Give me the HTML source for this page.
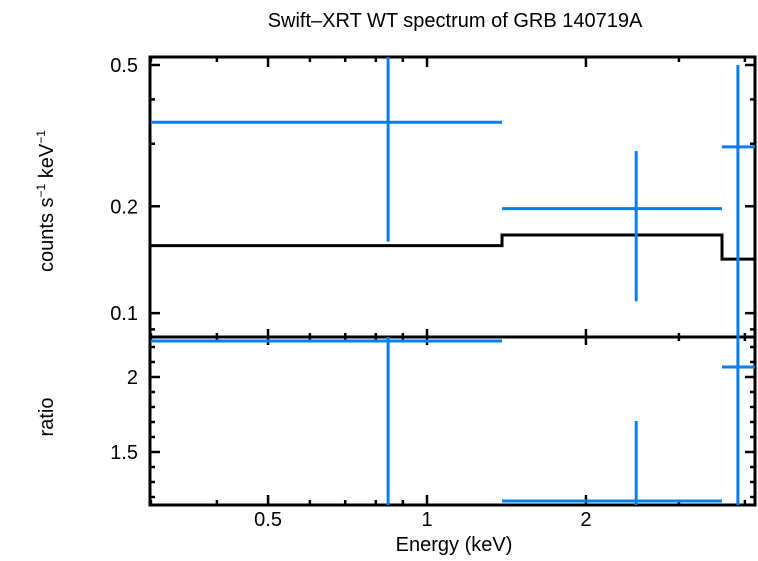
<!DOCTYPE html>
<html><head><meta charset="utf-8"><style>
html,body{margin:0;padding:0;background:#fff;}
svg text{font-family:"Liberation Sans",sans-serif;fill:#000;}
</style></head><body>
<svg id="chart" width="758" height="556" xmlns="http://www.w3.org/2000/svg">
<defs>
<clipPath id="ct"><rect x="150" y="57" width="605" height="280"/></clipPath>
<clipPath id="cb"><rect x="150" y="337" width="605" height="168"/></clipPath>
</defs>
<text x="455" y="27" font-size="20" text-anchor="middle">Swift–XRT WT spectrum of GRB 140719A</text>
<text transform="translate(53,201) rotate(-90)" font-size="20" text-anchor="middle">counts s<tspan font-size="12" dy="-8">−1</tspan><tspan dy="8"> keV</tspan><tspan font-size="12" dy="-8">−1</tspan></text>
<text transform="translate(53,417) rotate(-90)" font-size="20" text-anchor="middle">ratio</text>
<text x="454" y="551" font-size="20" text-anchor="middle">Energy (keV)</text>
<g id="axes"></g>
<g id="model" clip-path="url(#ct)"></g>
<g id="dataTop" clip-path="url(#ct)"></g>
<g id="dataBot" clip-path="url(#cb)"></g>
</svg>
<script>
const binLo=[0.3,1.387,3.62];
const binHi=[1.387,3.62,4.3];
const binCenter=[0.844,2.49,3.88];
const flux=[0.345,0.197,0.294];
const fluxLo=[0.159,0.108,0.06];
const fluxHi=[0.7,0.286,0.5];
const ratio=[2.24,1.173,2.067];
const ratioLo=[1.0,1.0,1.0];
const ratioHi=[2.6,1.707,2.6];
const modelVal=[0.155,0.166,0.142];
const xTicks=[0.5,1,2];
const xMinor=[0.3,0.4,0.6,0.7,0.8,0.9,3,4];
const yTopTicks=[0.1,0.2,0.5];
const yTopMinor=[0.09,0.3,0.4];
const yBotTicks=[1.5,2];
const yBotMinor=[1.2,1.3,1.4,1.6,1.7,1.8,1.9,2.1,2.2];

const L=150,R=755,T=57,M=337,B=505;
const X=e=>427+528*Math.log10(e);
const YT=v=>65-355*Math.log10(v/0.5);
const YB=v=>377-150*(v-2);
const NS="http://www.w3.org/2000/svg";
function mk(parent,tag,attrs){const el=document.createElementNS(NS,tag);for(const k in attrs)el.setAttribute(k,attrs[k]);document.getElementById(parent).appendChild(el);return el;}
function line(p,x1,y1,x2,y2,c,w){return mk(p,'line',{x1,y1,x2,y2,stroke:c,'stroke-width':w});}

let f=mk('axes','rect',{x:L,y:T,width:R-L,height:B-T,fill:'none',stroke:'#000','stroke-width':3});


let dv=line('axes',L,M,R,M,'#000',3);



xTicks.forEach(t=>{const x=X(t);
 [[T,T+10],[M-8,M+8],[B-10,B]].forEach(([a,b])=>line('axes',x,a,x,b,'#000',2.5));
 const tx=mk('axes','text',{x:x,y:526,'font-size':20,'text-anchor':'middle'});tx.textContent=t;
 
 
});
xMinor.forEach(t=>{const x=X(t);
 [[T,T+5],[M-4,M+4],[B-5,B]].forEach(([a,b])=>line('axes',x,a,x,b,'#000',2.5));
});
yTopTicks.forEach(t=>{const y=YT(t);
 line('axes',L,y,L+10,y,'#000',2.5);line('axes',R-10,y,R,y,'#000',2.5);
 const tx=mk('axes','text',{x:138,y:y+7,'font-size':20,'text-anchor':'end'});tx.textContent=t;
 
 
});
yTopMinor.forEach(t=>{const y=YT(t);line('axes',L,y,L+5,y,'#000',2.5);line('axes',R-5,y,R,y,'#000',2.5);});
yBotTicks.forEach(t=>{const y=YB(t);
 line('axes',L,y,L+10,y,'#000',2.5);line('axes',R-10,y,R,y,'#000',2.5);
 const tx=mk('axes','text',{x:138,y:y+7,'font-size':20,'text-anchor':'end'});tx.textContent=t;
 
 
});
yBotMinor.forEach(t=>{const y=YB(t);line('axes',L,y,L+5,y,'#000',2.5);line('axes',R-5,y,R,y,'#000',2.5);});

let d='';
modelVal.forEach((v,i)=>{d+=(i?'L':'M')+X(binLo[i])+' '+YT(v)+' L'+X(binHi[i])+' '+YT(v)+' ';});
let mp=mk('model','path',{d:d,fill:'none',stroke:'#000','stroke-width':3});



const C='#0a7df0';
binCenter.forEach((c,i)=>{
 let h=line('dataTop',X(binLo[i]),YT(flux[i]),X(binHi[i]),YT(flux[i]),C,3);
 
 
 let v=line('dataTop',X(c),YT(fluxLo[i]),X(c),YT(fluxHi[i]),C,3);
 
 
 let h2=line('dataBot',X(binLo[i]),YB(ratio[i]),X(binHi[i]),YB(ratio[i]),C,3);
 
 
 let v2=line('dataBot',X(c),YB(ratioLo[i]),X(c),YB(ratioHi[i]),C,3);
 
 
});
</script>
</body></html>
